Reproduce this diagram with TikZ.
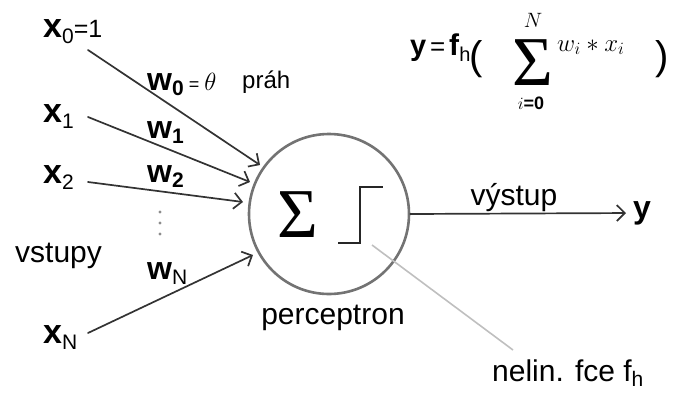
\documentclass[tikz,border=0pt]{standalone}
\usepackage{amsmath}
\usepackage{fontspec}
\setmainfont{Liberation Sans}
\newfontfamily\sigfont{Liberation Serif}
\usetikzlibrary{arrows.meta}
\newcommand\xlab[1]{{\fontsize{34}{36}\selectfont\bfseries x}\raisebox{-6pt}{\fontsize{21}{23}\selectfont #1}}
\newcommand\wlab[1]{{\fontsize{32}{34}\selectfont\bfseries w}\raisebox{-5pt}{\fontsize{21}{23}\selectfont #1}}
\begin{document}
\begin{tikzpicture}[x=1pt,y=-1pt,
  lab/.style={inner sep=0pt,anchor=base west,font=\fontsize{30}{32}\selectfont},
  inarrow/.style={draw=black!80,line width=1.7pt,line cap=round,
    -{Straight Barb[length=8pt,width=16pt,line width=1.7pt]}},
  neuron/.style={circle,draw=black!55,line width=2.6pt,minimum size=160pt,inner sep=0pt},
  dot/.style={circle,fill=black!45,inner sep=0pt,minimum size=3.2pt}]
\useasboundingbox (0,0) rectangle (673,392);
% neuron
\node[neuron] (c) at (329,214) {};
\node[inner sep=0pt,font=\sigfont\fontsize{70}{72}\selectfont] (sig) at (297.5,215) {Σ};
\draw[line width=2.2pt,black!85] (338,243) coordinate (s0) -- (360,243) -- (360,187) -- (383,187);
\node[lab,anchor=base] (perc) at (333,324) {perceptron};
% inputs
\node[lab] (x0) at (43,37) {\xlab{0}{\fontsize{25}{27}\selectfont=1}};
\node[lab] (x1) at (43,122) {\xlab{1}};
\node[lab] (x2) at (43,183) {\xlab{2}};
\node[lab] (xN) at (43,343) {\xlab{N}};
\node[lab] (vst) at (15,262) {vstupy};
\coordinate (a0) at (88,50);  \coordinate (b0) at (260,165);
\coordinate (a1) at (88,117); \coordinate (b1) at (250,182);
\coordinate (a2) at (88,182); \coordinate (b2) at (243,202);
\coordinate (aN) at (88,333); \coordinate (bN) at (253,255);
\draw[inarrow] (a0) -- (b0);
\draw[inarrow] (a1) -- (b1);
\draw[inarrow] (a2) -- (b2);
\draw[inarrow] (aN) -- (bN);
% weights
\node[lab] (w0) at (147,90) {\wlab{\textbf{0}}\,{\fontsize{18}{20}\selectfont=}\,{\fontsize{24}{26}\selectfont$\theta$}};
\node[lab] (prah) at (242,88) {\fontsize{24}{26}\selectfont práh};
\node[lab] (w1) at (147,138) {\wlab{\textbf{1}}};
\node[lab] (w2) at (147,182) {\wlab{\textbf{2}}};
\node[lab] (wN) at (147,279) {\wlab{N}};
\node[dot] (d1) at (160,212) {};
\node[dot] (d2) at (160,223) {};
\node[dot] (d3) at (160,234) {};
% output
\node[lab,anchor=west,inner sep=0pt] (y) at (633,213) {\fontsize{32}{34}\selectfont\textbf{y}};
\draw[inarrow,shorten >=7pt] (c.east) -- (y.west);
\node[lab,anchor=base] (vys) at (514,205) {výstup};
% nonlinearity label
\node[lab] (nl) at (492,381) {nelin. fce f\raisebox{-5pt}{\fontsize{21}{23}\selectfont h}};
\coordinate (g0) at (372,245); \coordinate (g1) at (513,350);
\draw[black!25,line width=1.6pt] (g0) -- (g1);
% formula
\node[lab] (fy) at (410,55) {\fontsize{29}{31}\selectfont\textbf{y}};
\node[lab] (feq) at (430,55) {\fontsize{26}{28}\selectfont=};
\node[lab] (ff) at (449,55) {\textbf{f}\raisebox{-6pt}{\fontsize{20}{22}\selectfont h}};
\node[inner sep=0pt,font=\fontsize{40}{42}\selectfont] (lp) at (476,59) {(};
\node[inner sep=0pt,font=\sigfont\fontsize{70}{72}\selectfont] (fsum) at (532.5,63) {Σ};
\node[inner sep=0pt,font=\fontsize{20}{22}\selectfont] (fN) at (533,20) {$N$};
\node[inner sep=0pt,font=\fontsize{18}{20}\selectfont] (fi) at (531,103) {$i$\textbf{=0}};
\node[inner sep=0pt,anchor=base west,font=\fontsize{26}{28}\selectfont] (fw) at (557,51) {$w_{i} * x_{i}$};
\node[inner sep=0pt,font=\fontsize{40}{42}\selectfont] (rp) at (662,59) {)};
\end{tikzpicture}
\end{document}
